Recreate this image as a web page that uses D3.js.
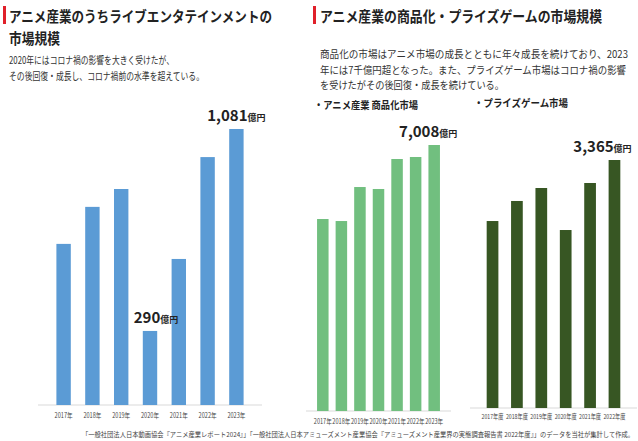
<!DOCTYPE html>
<html><head><meta charset="utf-8">
<script src="https://cdn.jsdelivr.net/npm/d3@7"></script>
<style>body{margin:0;background:#fff}text{font-family:"Noto Sans CJK JP",sans-serif}</style>
</head><body>
<script>
const liveYears = ["2017年","2018年","2019年","2020年","2021年","2022年","2023年"];
const liveValues = [631, 776, 846, 290, 572, 971, 1081];
const goodsYears = ["2017年","2018年","2019年","2020年","2021年","2022年","2023年"];
const goodsValues = [5058, 5005, 5901, 5849, 6639, 6692, 7008];
const prizeYears = ["2017年度","2018年度","2019年度","2020年度","2021年度","2022年度"];
const prizeValues = [2537, 2809, 2985, 2415, 3053, 3365];

const svg = d3.select("body").append("svg").attr("width", 638).attr("height", 441);

function fit(sel, w) { return sel.attr("textLength", w).attr("lengthAdjust", "spacingAndGlyphs"); }

function chart(cats, vals, x0, x1, base, topPx, color, pad, labels, fs, lw, lblDy) {
  const x = d3.scaleBand().domain(cats).range([x0, x1]).padding(pad);
  const y = d3.scaleLinear().domain([0, d3.max(vals)]).range([base, topPx]);
  svg.append("line").attr("x1", x0 - 4).attr("x2", x1 + 4).attr("y1", base).attr("y2", base)
    .attr("stroke", "#d9d9d9").attr("stroke-width", 1.2);
  svg.append("g").selectAll("rect").data(vals).join("rect")
    .attr("x", (d, i) => x(cats[i])).attr("width", x.bandwidth())
    .attr("y", d => y(d)).attr("height", d => base - y(d)).attr("fill", color);
  fit(svg.append("g").selectAll("text").data(cats).join("text")
    .attr("x", d => x(d) + x.bandwidth() / 2).attr("y", base + lblDy)
    .attr("text-anchor", "middle").attr("font-size", fs).attr("fill", "#444").text(d => d), lw);
  labels.forEach(([i, txt, dx]) => {
    const t = svg.append("text").attr("x", x(cats[i]) + x.bandwidth() / 2 + dx).attr("y", y(vals[i]) - 8)
      .attr("text-anchor", "middle").attr("font-weight", "bold").attr("fill", "#222");
    t.append("tspan").attr("font-size", 15).text(txt);
    t.append("tspan").attr("font-size", 9).text("億円");
  });
}

chart(liveYears, liveValues, 42, 258, 405, 129, "#5b9bd5", 0.5, [[3, "290", 6], [6, "1,081", 0]], 7, 18, 13);
chart(goodsYears, goodsValues, 310, 447, 411, 145, "#71bf7f", 0.38, [[6, "7,008", -6]], 7, 18, 13);
chart(prizeYears, prizeValues, 474, 633, 408, 160, "#375623", 0.52, [[5, "3,365", -12]], 6.5, 22, 11);

// titles
svg.append("rect").attr("x", 3).attr("y", 6).attr("width", 3).attr("height", 18).attr("fill", "#e0202a");
svg.append("rect").attr("x", 313).attr("y", 6).attr("width", 3).attr("height", 18).attr("fill", "#e0202a");
const title = (x, y, t, w) => fit(svg.append("text").attr("x", x).attr("y", y).attr("font-size", 14.5)
  .attr("font-weight", "bold").attr("fill", "#222").text(t), w);
title(9, 22, "アニメ産業のうちライブエンタテインメントの", 263);
title(9, 44, "市場規模", 51);
title(320, 22, "アニメ産業の商品化・プライズゲームの市場規模", 282);
const body = (x, y, t, w) => fit(svg.append("text").attr("x", x).attr("y", y).attr("font-size", 10.5)
  .attr("fill", "#333").text(t), w);
body(9, 64, "2020年にはコロナ禍の影響を大きく受けたが、", 165);
body(9, 80, "その後回復・成長し、コロナ禍前の水準を超えている。", 195);
body(320, 58, "商品化の市場はアニメ市場の成長とともに年々成長を続けており、2023", 308);
body(320, 74, "年には7千億円超となった。また、プライズゲーム市場はコロナ禍の影響", 306);
body(320, 89, "を受けたがその後回復・成長を続けている。", 184);
fit(svg.append("text").attr("x", 314).attr("y", 109).attr("font-size", 10.5).attr("font-weight", "bold").attr("fill", "#222").text("・アニメ産業 商品化市場"), 104);
fit(svg.append("text").attr("x", 474).attr("y", 107).attr("font-size", 10.5).attr("font-weight", "bold").attr("fill", "#222").text("・プライズゲーム市場"), 94);
fit(svg.append("text").attr("x", 634).attr("y", 437).attr("text-anchor", "end").attr("font-size", 6.8).attr("fill", "#444")
  .text("「一般社団法人日本動画協会『アニメ産業レポート2024』」「一般社団法人日本アミューズメント産業協会『アミューズメント産業界の実態調査報告書 2022年度』」のデータを当社が集計して作成。"), 552);
</script>
</body></html>
